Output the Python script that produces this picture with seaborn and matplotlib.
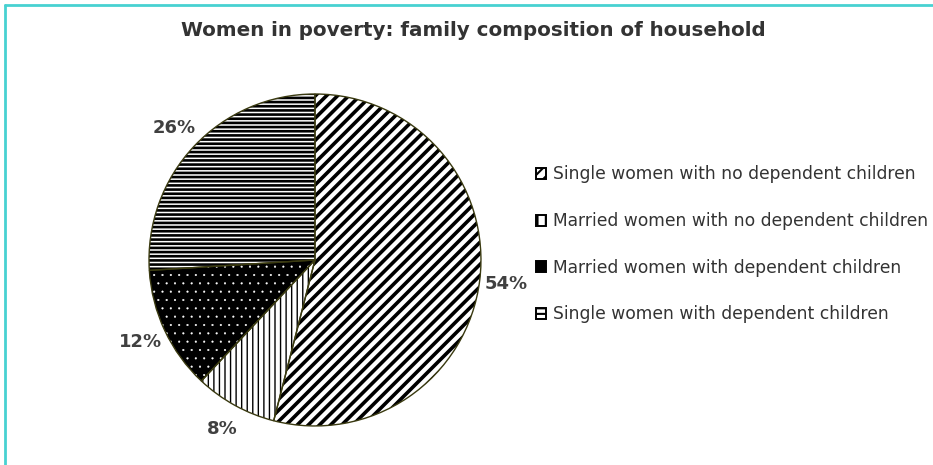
import matplotlib
matplotlib.use("Agg")
import matplotlib.pyplot as plt
import seaborn as sns
from matplotlib.lines import Line2D

# data
categories = [
    "Single women with no dependent children",
    "Married women with no dependent children",
    "Married women with dependent children",
    "Single women with dependent children",
]
shares = [54, 8, 12, 26]

# pattern per slice
hatches = ["///", "|||", "..", "----"]
faces = ["white", "white", "black", "white"]
hatch_colors = ["black", "black", "white", "black"]
hatch_widths = [2.6, 1.0, 0.3, 1.9]

sns.set_theme(style="white")
plt.rcParams["font.family"] = ["DejaVu Sans"]
plt.rcParams["hatch.linewidth"] = 1.5

fig = plt.figure(figsize=(9.33, 4.65), dpi=100)
fig.patch.set_facecolor("white")

ax = fig.add_axes([0.1597, 0.0839, 0.3558, 0.714])

# first pass: hatched fill, hatch colour taken from edgecolor
wedges, _ = ax.pie(shares, startangle=90, counterclock=False, radius=1,
                   colors=faces, wedgeprops=dict(linewidth=0))
for w, h, hc, hw in zip(wedges, hatches, hatch_colors, hatch_widths):
    w.set_hatch(h)
    w.set_edgecolor(hc)
    if hasattr(w, "set_hatch_linewidth"):
        w.set_hatch_linewidth(hw)

# second pass: thin olive outline and the percentage labels
outline, _, pct = ax.pie(shares, startangle=90, counterclock=False, radius=1,
                         colors=["none"] * 4, autopct="%d%%", pctdistance=1.16,
                         wedgeprops=dict(linewidth=1.0, edgecolor="#3a3a10",
                                         fill=False),
                         textprops=dict(fontsize=13, fontweight="bold",
                                        color="#404040"))
ax.set_xlim(-1, 1)
ax.set_ylim(-1, 1)
ax.set_aspect("equal")
ax.axis("off")

fig.text(0.507, 0.935, "Women in poverty: family composition of household",
         ha="center", va="center", fontsize=14.3, fontweight="bold",
         color="#333333")

# legend with small patterned squares
leg_hatch = ["///", "||", "", "---"]
handles = []
for f, h in zip(faces, leg_hatch):
    p = plt.Rectangle((0, 0), 1, 1, facecolor=f, edgecolor="black",
                      hatch=h, linewidth=1.4)
    handles.append(p)
fig.legend(handles, categories, loc="upper left",
           bbox_to_anchor=(0.567, 0.659), frameon=False, fontsize=12.3,
           handlelength=0.6, handleheight=0.6, handletextpad=0.4,
           labelspacing=1.68, labelcolor="#333333", borderaxespad=0)

# cyan frame lines at top and left
fig.add_artist(Line2D([5 / 933, 5 / 933], [0, 1 - 5 / 465],
                      color="#48D1D1", linewidth=2, transform=fig.transFigure))
fig.add_artist(Line2D([5 / 933, 1], [1 - 5 / 465, 1 - 5 / 465],
                      color="#48D1D1", linewidth=2, transform=fig.transFigure))

fig.savefig("out.png", dpi=100)
